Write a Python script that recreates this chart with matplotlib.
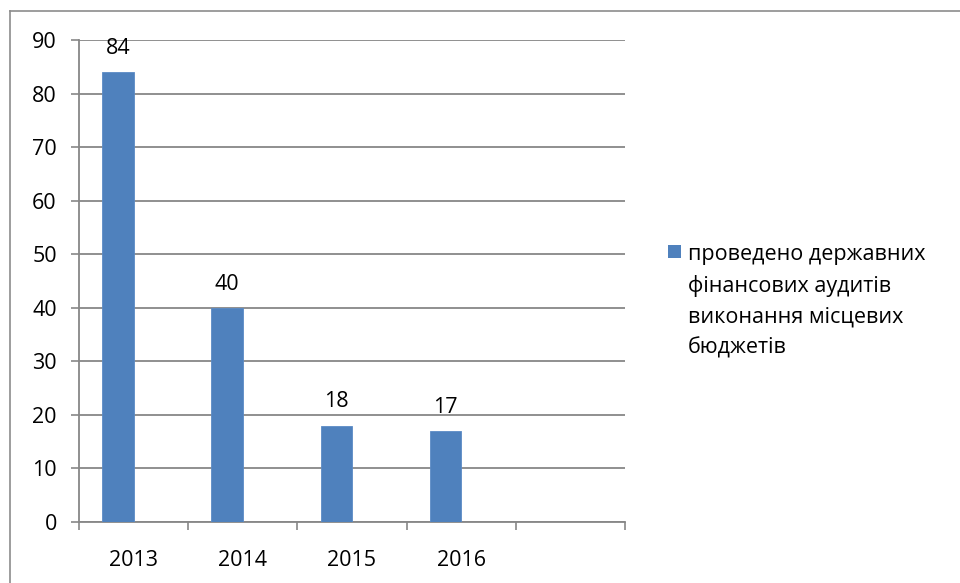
import matplotlib
matplotlib.use("Agg")
import matplotlib.pyplot as plt
from matplotlib.lines import Line2D
from matplotlib.patches import Rectangle

categories = ["2013", "2014", "2015", "2016", ""]
values = [84, 40, 18, 17]
series_name = "проведено державних\nфінансових аудитів\nвиконання місцевих\nбюджетів"
y_ticks = list(range(0, 100, 10))

plt.rcParams['font.family'] = ['Open Sans', 'DejaVu Sans']

W, H = 960, 583
fig = plt.figure(figsize=(W / 100, H / 100), dpi=100)
ax = fig.add_axes([79 / W, 1 - 522 / H, (625 - 79) / W, (522 - 40) / H])

FS = 15.5
bar_color = "#4F81BD"
grid_color = "#878787"
w = 0.288
xs = list(range(len(values)))
bars = ax.bar([x - w for x in xs], values, width=w, align='edge',
              color=bar_color, edgecolor="#5B8BC6", linewidth=0.6, zorder=3)
for x, v in zip(xs, values):
    ax.annotate(str(v), (x - w / 2, v), xytext=(0, 9.5), textcoords='offset points',
                ha='center', va='bottom', fontsize=FS, color='black')

ax.set_xlim(-0.5, len(categories) - 0.5)
ax.set_ylim(0, 90)
ax.set_yticks(y_ticks)
ax.set_yticklabels([str(t) for t in y_ticks], fontsize=FS)
ax.set_xticks(range(len(categories)))
ax.set_xticklabels(categories, fontsize=FS)
ax.set_xticks([i - 0.5 for i in range(len(categories) + 1)], minor=True)
ax.tick_params(axis='x', which='major', length=0, pad=20)
ax.tick_params(axis='x', which='minor', length=6, width=1.2, color=grid_color)
ax.tick_params(axis='y', length=6, width=1.2, color=grid_color, pad=10)
ax.yaxis.grid(True, color=grid_color, linewidth=1.3, zorder=0)
ax.set_axisbelow(True)
for s in ['top', 'right']:
    ax.spines[s].set_visible(False)
for s in ['left', 'bottom']:
    ax.spines[s].set_color(grid_color)
    ax.spines[s].set_linewidth(1.3)

# legend
fig.add_artist(Rectangle((668 / W, 1 - 258 / H), 13 / W, 13 / H,
                         transform=fig.transFigure, facecolor=bar_color, edgecolor='none'))
fig.text(688 / W, 1 - 244 / H, series_name, ha='left', va='top', fontsize=FS,
         linespacing=1.58)

# outer border
fig.add_artist(Line2D([9.5 / W, 9.5 / W], [0, 1 - 10.5 / H], transform=fig.transFigure,
                      color="#8C8C8C", linewidth=1.2))
fig.add_artist(Line2D([9.5 / W, 1], [1 - 10.5 / H, 1 - 10.5 / H], transform=fig.transFigure,
                      color="#8C8C8C", linewidth=1.2))

fig.savefig("out.png", dpi=100)
